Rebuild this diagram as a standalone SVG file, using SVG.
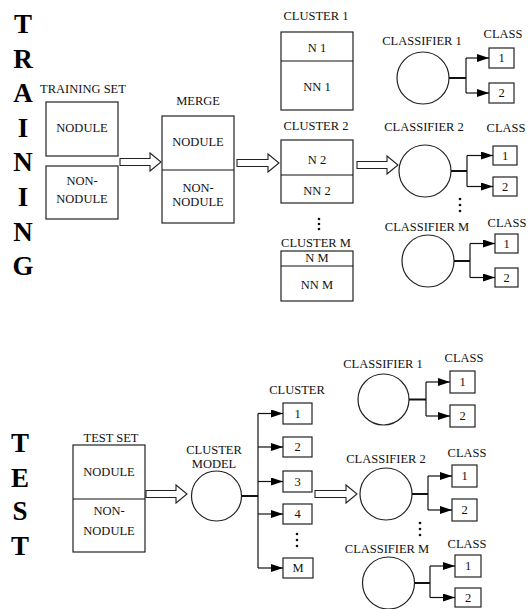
<svg xmlns="http://www.w3.org/2000/svg" width="528" height="609" viewBox="0 0 528 609">
<style>
text{font-family:"Liberation Serif","Times New Roman",serif;font-size:12.5px;fill:#111;text-anchor:middle}
.big{font-size:27px;font-weight:bold;fill:#000}
.box{fill:#fff;stroke:#222;stroke-width:1.2}
.circ{fill:#fff;stroke:#222;stroke-width:1.2}
.ln{fill:none;stroke:#111;stroke-width:1.2}
.thick{fill:none;stroke:#111;stroke-width:2}
.harrow{fill:#fff;stroke:#222;stroke-width:1.1}
.dot{fill:#111}
</style>
<defs>
<marker id="ah" viewBox="0 0 12 8" refX="12" refY="4" markerWidth="12" markerHeight="8" markerUnits="userSpaceOnUse" orient="auto">
<path d="M0,0 L12,4 L0,8 z" fill="#000"/>
</marker>
</defs>
<rect width="528" height="609" fill="#fff"/>

<g id="title-training">
<text class="big" x="23" y="33">T</text>
<text class="big" x="23" y="67.6">R</text>
<text class="big" x="23" y="102">A</text>
<text class="big" x="23" y="136.8">I</text>
<text class="big" x="23" y="171.4">N</text>
<text class="big" x="23" y="206">I</text>
<text class="big" x="23" y="240.6">N</text>
<text class="big" x="23" y="275.2">G</text>
</g>
<g id="title-test">
<text class="big" x="20" y="452">T</text>
<text class="big" x="20" y="487">E</text>
<text class="big" x="20" y="520">S</text>
<text class="big" x="20" y="555">T</text>
</g>

<g id="training-set">
<text x="83" y="93">TRAINING SET</text>
<rect class="box" x="46" y="102" width="72" height="54"/>
<text x="82" y="132">NODULE</text>
<rect class="box" x="46" y="166" width="72" height="53"/>
<text x="82" y="185">NON-</text>
<text x="82" y="203">NODULE</text>
</g>

<g id="merge">
<text x="198" y="105">MERGE</text>
<rect class="box" x="162" y="116" width="72" height="107"/>
<line class="ln" x1="162" y1="170" x2="234" y2="170"/>
<text x="198" y="146">NODULE</text>
<text x="198" y="192">NON-</text>
<text x="198" y="206">NODULE</text>
</g>

<g id="cluster1">
<text x="316" y="20">CLUSTER 1</text>
<rect class="box" x="281" y="32" width="72" height="78"/>
<line class="ln" x1="281" y1="61" x2="353" y2="61"/>
<text x="317" y="52">N 1</text>
<text x="317" y="91">NN 1</text>
</g>

<g id="cluster2">
<text x="316" y="130">CLUSTER 2</text>
<rect class="box" x="281" y="140" width="72" height="63"/>
<line class="ln" x1="281" y1="175" x2="353" y2="175"/>
<text x="317" y="164">N 2</text>
<text x="317" y="195">NN 2</text>
</g>

<g id="cluster-dots">
<circle class="dot" cx="319" cy="219" r="1.3"/>
<circle class="dot" cx="319" cy="224" r="1.3"/>
<circle class="dot" cx="319" cy="229" r="1.3"/>
</g>

<g id="clusterM">
<text x="316" y="247">CLUSTER M</text>
<rect class="box" x="281" y="251" width="72" height="50"/>
<line class="ln" x1="281" y1="266" x2="353" y2="266"/>
<text x="317" y="262">N M</text>
<text x="317" y="289">NN M</text>
</g>

<g id="classifier1">
<text x="422" y="45">CLASSIFIER 1</text>
<circle class="circ" cx="423" cy="78" r="26"/>
</g>
<g id="class1-1">
<text x="503" y="38">CLASS</text>
<rect class="box" x="489" y="48" width="25" height="20"/>
<text x="501.5" y="62">1</text>
</g>
<g id="class1-2">
<rect class="box" x="489" y="83" width="25" height="20"/>
<text x="501.5" y="97">2</text>
</g>

<g id="classifier2">
<text x="424" y="131">CLASSIFIER 2</text>
<circle class="circ" cx="425" cy="171" r="26"/>
</g>
<g id="class2-1">
<text x="506" y="132">CLASS</text>
<rect class="box" x="493" y="146" width="24" height="19"/>
<text x="505" y="160">1</text>
</g>
<g id="class2-2">
<rect class="box" x="493" y="177" width="24" height="19"/>
<text x="505" y="191">2</text>
</g>

<g id="classifier-dots">
<circle class="dot" cx="460" cy="199" r="1.3"/>
<circle class="dot" cx="460" cy="205" r="1.3"/>
<circle class="dot" cx="460" cy="211" r="1.3"/>
</g>

<g id="classifierM">
<text x="427" y="231">CLASSIFIER M</text>
<circle class="circ" cx="428" cy="261" r="26"/>
</g>
<g id="classM-1">
<text x="507" y="227">CLASS</text>
<rect class="box" x="495" y="234" width="23" height="19"/>
<text x="506.5" y="248">1</text>
</g>
<g id="classM-2">
<rect class="box" x="495" y="268" width="23" height="19"/>
<text x="506.5" y="282">2</text>
</g>

<g id="test-set">
<text x="111" y="442">TEST SET</text>
<rect class="box" x="73" y="445" width="72" height="107"/>
<line class="ln" x1="73" y1="499" x2="145" y2="499"/>
<text x="109" y="476">NODULE</text>
<text x="109" y="515">NON-</text>
<text x="109" y="535">NODULE</text>
</g>

<g id="cluster-model">
<text x="214" y="454">CLUSTER</text>
<text x="214" y="468">MODEL</text>
<circle class="circ" cx="216.5" cy="496" r="25"/>
</g>

<g id="test-clusters">
<text x="297" y="394">CLUSTER</text>
<rect class="box" x="283" y="403" width="29" height="21"/>
<text x="297.5" y="418">1</text>
<rect class="box" x="283" y="437" width="29" height="20"/>
<text x="297.5" y="451">2</text>
<rect class="box" x="283" y="471" width="29" height="21"/>
<text x="297.5" y="486">3</text>
<rect class="box" x="283" y="504" width="29" height="20"/>
<text x="297.5" y="518">4</text>
<circle class="dot" cx="297" cy="534" r="1.3"/>
<circle class="dot" cx="297" cy="540" r="1.3"/>
<circle class="dot" cx="297" cy="546" r="1.3"/>
<rect class="box" x="283" y="558" width="30" height="20"/>
<text x="298" y="572">M</text>
</g>

<g id="test-classifier1">
<text x="383" y="368">CLASSIFIER 1</text>
<circle class="circ" cx="383.5" cy="399.5" r="25.5"/>
<text x="464" y="362">CLASS</text>
<rect class="box" x="450" y="371" width="25" height="22"/>
<text x="462.5" y="386">1</text>
<rect class="box" x="450" y="405" width="25" height="22"/>
<text x="462.5" y="420">2</text>
</g>

<g id="test-classifier2">
<text x="386" y="463">CLASSIFIER 2</text>
<circle class="circ" cx="386" cy="494" r="26"/>
<text x="467" y="457">CLASS</text>
<rect class="box" x="452" y="465" width="25" height="22"/>
<text x="464.5" y="480">1</text>
<rect class="box" x="452" y="499" width="25" height="22"/>
<text x="464.5" y="514">2</text>
<circle class="dot" cx="420" cy="523" r="1.3"/>
<circle class="dot" cx="420" cy="529" r="1.3"/>
<circle class="dot" cx="420" cy="535" r="1.3"/>
</g>

<g id="test-classifierM">
<text x="387" y="553">CLASSIFIER M</text>
<circle class="circ" cx="388.5" cy="583" r="26"/>
<text x="467" y="548">CLASS</text>
<rect class="box" x="455" y="555" width="26" height="22"/>
<text x="468" y="570">1</text>
<rect class="box" x="455" y="588" width="26" height="19"/>
<text x="468" y="602">2</text>
</g>

<g id="connectors">
<polygon class="harrow" points="120,158.5 150,158.5 150,153 161,162 150,171 150,165.5 120,165.5"/>
<polygon class="harrow" points="237,159.5 268,159.5 268,154 279,163 268,172 268,166.5 237,166.5"/>
<polygon class="harrow" points="357,161.5 387,161.5 387,156 398,165 387,174 387,168.5 357,168.5"/>
<polygon class="harrow" points="146,490.5 176,490.5 176,485 187,494 176,503 176,497.5 146,497.5"/>
<polygon class="harrow" points="315,490.5 346,490.5 346,485 357,494 346,503 346,497.5 315,497.5"/>

<path class="thick" d="M449,78 H466"/>
<path class="ln" d="M466,58 V93"/>
<path class="ln" d="M466,58 H489" marker-end="url(#ah)"/>
<path class="ln" d="M466,93 H489" marker-end="url(#ah)"/>

<path class="thick" d="M451,171 H467"/>
<path class="ln" d="M467,155.5 V186.5"/>
<path class="ln" d="M467,155.5 H493" marker-end="url(#ah)"/>
<path class="ln" d="M467,186.5 H493" marker-end="url(#ah)"/>

<path class="thick" d="M454,261 H470"/>
<path class="ln" d="M470,243.5 V277.5"/>
<path class="ln" d="M470,243.5 H495" marker-end="url(#ah)"/>
<path class="ln" d="M470,277.5 H495" marker-end="url(#ah)"/>

<path class="thick" d="M241.5,496 H258"/>
<path class="ln" d="M258,413.5 V568"/>
<path class="ln" d="M258,413.5 H283" marker-end="url(#ah)"/>
<path class="ln" d="M258,447 H283" marker-end="url(#ah)"/>
<path class="ln" d="M258,481.5 H283" marker-end="url(#ah)"/>
<path class="ln" d="M258,514 H283" marker-end="url(#ah)"/>
<path class="ln" d="M258,568 H283" marker-end="url(#ah)"/>

<path class="thick" d="M409,399.5 H426"/>
<path class="ln" d="M426,382 V416"/>
<path class="ln" d="M426,382 H450" marker-end="url(#ah)"/>
<path class="ln" d="M426,416 H450" marker-end="url(#ah)"/>

<path class="thick" d="M412,494 H428"/>
<path class="ln" d="M428,476 V510"/>
<path class="ln" d="M428,476 H452" marker-end="url(#ah)"/>
<path class="ln" d="M428,510 H452" marker-end="url(#ah)"/>

<path class="thick" d="M414.5,583 H430"/>
<path class="ln" d="M430,566 V597.5"/>
<path class="ln" d="M430,566 H455" marker-end="url(#ah)"/>
<path class="ln" d="M430,597.5 H455" marker-end="url(#ah)"/>
</g>
</svg>
